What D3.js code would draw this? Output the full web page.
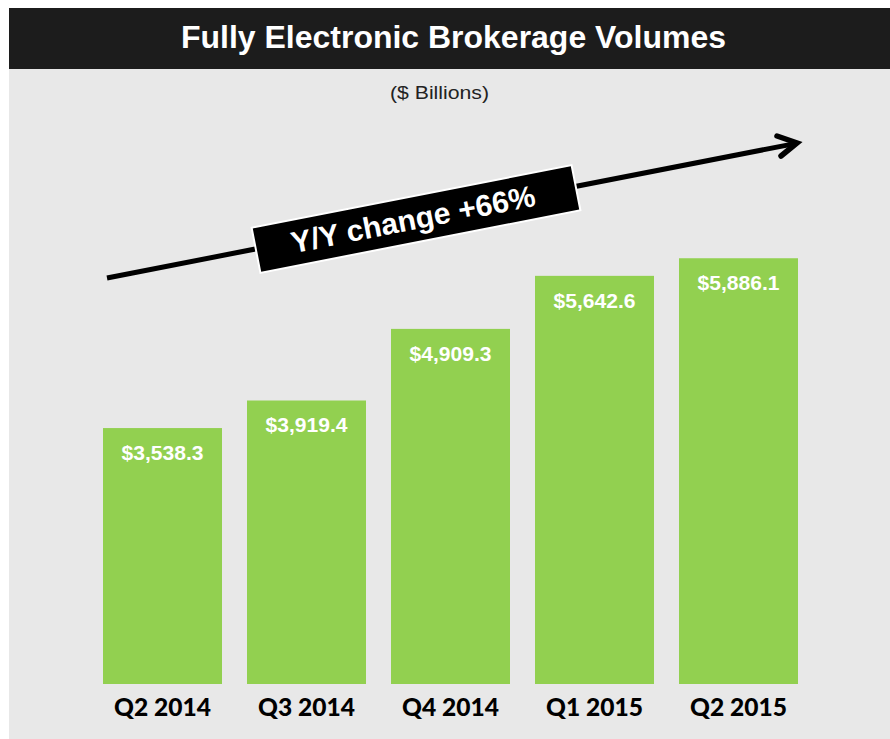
<!DOCTYPE html>
<html>
<head>
<meta charset="utf-8">
<script src="https://cdn.jsdelivr.net/npm/d3@7"></script>
<style>
  html, body { margin: 0; padding: 0; background: #ffffff; }
  svg { display: block; }
</style>
</head>
<body>
<svg id="chart" width="890" height="739"></svg>
<script>
// ---- data ----
const categories = ["Q2 2014", "Q3 2014", "Q4 2014", "Q1 2015", "Q2 2015"];
const volumes = [3538.3, 3919.4, 4909.3, 5642.6, 5886.1];
const valueLabels = ["$3,538.3", "$3,919.4", "$4,909.3", "$5,642.6", "$5,886.1"];
const titleText = "Fully Electronic Brokerage Volumes";
const subtitleText = "($ Billions)";
const changeText = "Y/Y change +66%";

// ---- layout ----
const W = 890, H = 739;
const svg = d3.select("#chart");

// backgrounds
svg.append("rect").attr("x", 9).attr("y", 8).attr("width", W - 9).attr("height", H - 8).attr("fill", "#e8e8e8");
svg.append("rect").attr("x", 9).attr("y", 8).attr("width", W - 9).attr("height", 61).attr("fill", "#1c1c1c");

svg.append("text")
  .attr("x", 453.5).attr("y", 48)
  .attr("text-anchor", "middle")
  .attr("fill", "#ffffff")
  .attr("textLength", 545)
  .attr("lengthAdjust", "spacingAndGlyphs")
  .style("font-family", "'Liberation Sans', Arial, sans-serif")
  .style("font-weight", "bold")
  .style("font-size", "31px")
  .text(titleText);

svg.append("text")
  .attr("x", 439.5).attr("y", 99)
  .attr("text-anchor", "middle")
  .attr("fill", "#222222")
  .attr("textLength", 99)
  .attr("lengthAdjust", "spacingAndGlyphs")
  .style("font-family", "'Liberation Sans', Arial, sans-serif")
  .style("font-size", "18.5px")
  .text(subtitleText);

// scales
const x = d3.scaleBand()
  .domain(categories)
  .range([90.5, 810.5])
  .paddingInner(0.1736)
  .paddingOuter(0.0868);

const y = d3.scaleLinear().domain([0, 6000]).range([684, 250]);

// bars
const g = svg.append("g");
g.selectAll("rect.bar")
  .data(categories)
  .join("rect")
  .attr("class", "bar")
  .attr("x", d => x(d))
  .attr("y", (d, i) => y(volumes[i]))
  .attr("width", x.bandwidth())
  .attr("height", (d, i) => y(0) - y(volumes[i]))
  .attr("fill", "#92d050");

g.selectAll("text.val")
  .data(categories)
  .join("text")
  .attr("class", "val")
  .attr("x", d => x(d) + x.bandwidth() / 2)
  .attr("y", (d, i) => y(volumes[i]) + 32)
  .attr("text-anchor", "middle")
  .attr("fill", "#ffffff")
  .attr("textLength", 82)
  .attr("lengthAdjust", "spacingAndGlyphs")
  .style("font-family", "'Liberation Sans', Arial, sans-serif")
  .style("font-weight", "bold")
  .style("font-size", "19.5px")
  .text((d, i) => valueLabels[i]);

// x axis labels
const xAxis = d3.axisBottom(x).tickSize(0).tickPadding(0);
const ax = svg.append("g").attr("transform", `translate(0, ${y(0)})`).call(xAxis);
ax.select(".domain").remove();
ax.selectAll("text")
  .attr("y", 32)
  .attr("dy", 0)
  .attr("fill", "#000000")
  .attr("textLength", 97)
  .attr("lengthAdjust", "spacingAndGlyphs")
  .style("font-family", "Lato, 'Open Sans', sans-serif")
  .style("font-weight", "900")
  .style("font-size", "24px");

// trend arrow annotation
const arrowStart = [107, 278], arrowEnd = [798, 143];
const ann = svg.append("g");
ann.append("line")
  .attr("x1", arrowStart[0]).attr("y1", arrowStart[1])
  .attr("x2", arrowEnd[0] - 3).attr("y2", arrowEnd[1] + 0.6)
  .attr("stroke", "#000").attr("stroke-width", 5);
ann.append("polyline")
  .attr("points", `777,136 797,143 781,156`)
  .attr("fill", "none")
  .attr("stroke", "#000")
  .attr("stroke-width", 5.5)
  .attr("stroke-linecap", "round")
  .attr("stroke-linejoin", "miter");

const angle = Math.atan2(arrowEnd[1] - arrowStart[1], arrowEnd[0] - arrowStart[0]) * 180 / Math.PI;
const box = ann.append("g").attr("transform", `translate(416,219) rotate(${angle})`);
box.append("rect")
  .attr("x", -163).attr("y", -23)
  .attr("width", 326).attr("height", 46)
  .attr("fill", "#000")
  .attr("stroke", "#ffffff").attr("stroke-width", 2);
box.append("text")
  .attr("x", -3).attr("y", 10)
  .attr("text-anchor", "middle")
  .attr("fill", "#ffffff")
  .attr("textLength", 248)
  .attr("lengthAdjust", "spacingAndGlyphs")
  .style("font-family", "'Liberation Sans', Arial, sans-serif")
  .style("font-weight", "bold")
  .style("font-size", "30px")
  .text(changeText);
</script>
</body>
</html>
